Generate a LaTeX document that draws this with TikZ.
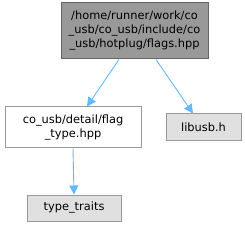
\documentclass[tikz,border=0pt]{standalone}
\usepackage{fontspec}
\setmainfont{DejaVu Sans}
\usetikzlibrary{arrows.meta}
\definecolor{edgeblue}{HTML}{63B8FF}
\definecolor{topfill}{HTML}{999999}
\definecolor{topdraw}{HTML}{666666}
\definecolor{extfill}{HTML}{E0E0E0}
\definecolor{extdraw}{HTML}{999999}
\tikzset{
  filebox/.style={draw=extdraw, line width=1pt, inner sep=0pt, align=center,
    font=\fontsize{11.4}{14}\selectfont, text=black},
  cur/.style={filebox, fill=topfill, draw=topdraw},
  ext/.style={filebox, fill=extfill},
  dep/.style={draw=edgeblue, line width=0.9pt, -{Triangle[length=9pt,width=9pt]}, edgeblue}
}
\begin{document}
\begin{tikzpicture}[x=1pt,y=1pt]
\useasboundingbox (0,0) rectangle (245,227);
\node[cur, minimum width=147pt, minimum height=56pt] (top) at (134.5,196) {/home/runner/work/co\\\_usb/co\_usb/include/co\\\_usb/hotplug/flags.hpp};
\node[filebox, fill=white, minimum width=136pt, minimum height=41pt] (flag) at (73,99.5) {co\_usb/detail/flag\\\_type.hpp};
\node[ext, minimum width=75pt, minimum height=27pt] (libusb) at (203.5,99.5) {libusb.h};
\node[ext, minimum width=94pt, minimum height=26pt] (traits) at (74,19) {type\_traits};
\draw[dep] ([xshift=-15.5pt]top.south) -- ([xshift=14pt]flag.north);
\draw[dep] ([xshift=21.5pt]top.south) -- ([xshift=-10.5pt]libusb.north);
\draw[dep] (flag.south) -- (traits.north);
\end{tikzpicture}
\end{document}
